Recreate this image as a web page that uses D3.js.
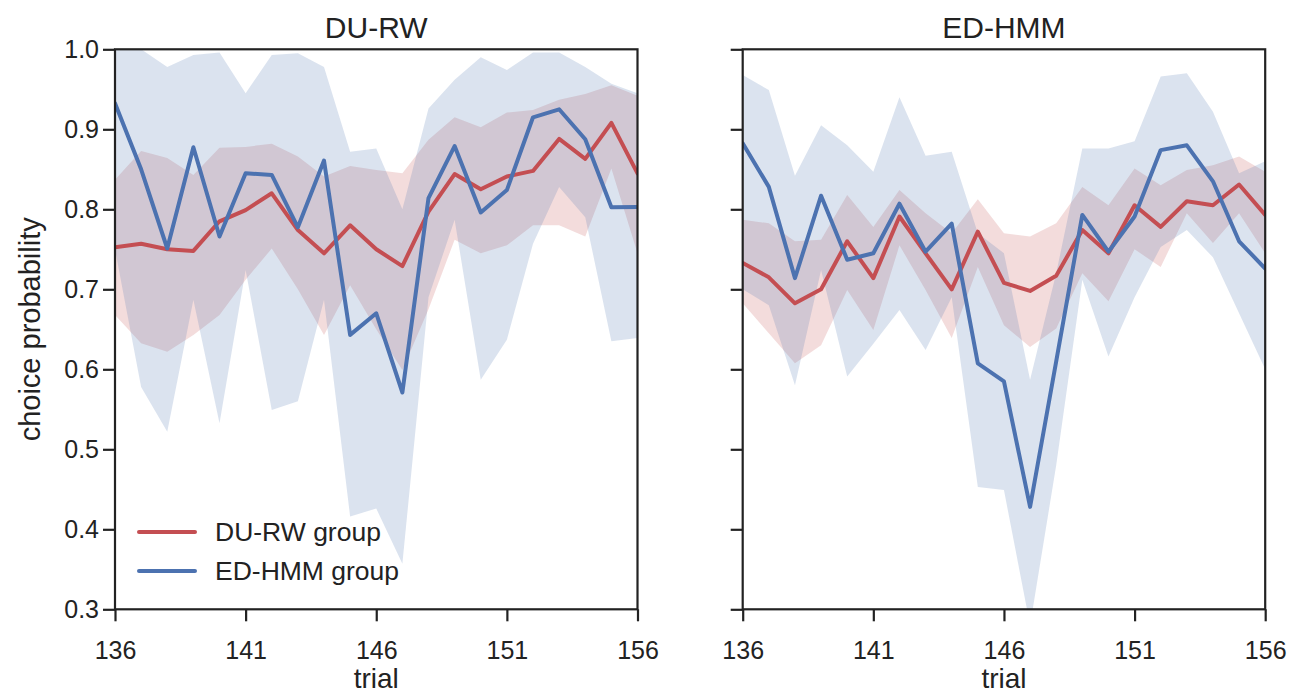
<!DOCTYPE html>
<html>
<head>
<meta charset="utf-8">
<script src="https://cdn.jsdelivr.net/npm/d3@7"></script>
<style>
  body { margin: 0; background: #fff; }
  svg { display: block; font-family: "Liberation Sans", Arial, sans-serif; }
</style>
</head>
<body>
<svg id="chart" width="1303" height="696"></svg>
<script>
const trials = d3.range(136, 157);
const xTickLabels = [136, 141, 146, 151, 156];
const yTickLabels = [0.3, 0.4, 0.5, 0.6, 0.7, 0.8, 0.9, 1.0];
const panelTitles = ["DU-RW", "ED-HMM"];
const seriesNames = ["DU-RW group", "ED-HMM group"];

// Left panel (DU-RW)
const duMeanL = [0.7525, 0.757, 0.75, 0.748, 0.785, 0.799, 0.82, 0.774, 0.745, 0.78, 0.75, 0.729, 0.797, 0.844, 0.825, 0.841, 0.848, 0.888, 0.863, 0.908, 0.845];
const duUpL   = [0.837, 0.873, 0.864, 0.843, 0.877, 0.878, 0.882, 0.866, 0.841, 0.854, 0.849, 0.845, 0.887, 0.915, 0.9025, 0.921, 0.924, 0.937, 0.944, 0.955, 0.942];
const duLoL   = [0.668, 0.6325, 0.622, 0.643, 0.668, 0.712, 0.751, 0.70, 0.643, 0.705, 0.65, 0.599, 0.675, 0.762, 0.745, 0.755, 0.78, 0.78, 0.766, 0.851, 0.745];
const edMeanL = [0.9325, 0.85, 0.751, 0.8775, 0.766, 0.845, 0.843, 0.7775, 0.861, 0.643, 0.67, 0.571, 0.814, 0.879, 0.796, 0.824, 0.915, 0.925, 0.8875, 0.8025, 0.803];
const edUpL   = [1.0, 1.0, 0.978, 0.993, 0.996, 0.945, 0.993, 0.995, 0.978, 0.872, 0.876, 0.80, 0.926, 0.962, 0.99, 0.974, 0.996, 0.996, 0.978, 0.957, 0.945];
const edLoL   = [0.75, 0.578, 0.522, 0.687, 0.5325, 0.724, 0.549, 0.56, 0.687, 0.416, 0.426, 0.357, 0.69, 0.787, 0.587, 0.637, 0.757, 0.828, 0.79, 0.635, 0.639];

// Right panel (ED-HMM)
const duMeanR = [0.733, 0.715, 0.6825, 0.70, 0.76, 0.714, 0.791, 0.745, 0.70, 0.772, 0.708, 0.698, 0.717, 0.774, 0.745, 0.805, 0.778, 0.81, 0.805, 0.831, 0.793];
const duUpR   = [0.787, 0.7825, 0.76, 0.762, 0.818, 0.778, 0.824, 0.795, 0.77, 0.8125, 0.77, 0.766, 0.7825, 0.828, 0.805, 0.851, 0.83, 0.849, 0.855, 0.866, 0.847];
const duLoR   = [0.6825, 0.645, 0.6075, 0.63, 0.699, 0.649, 0.755, 0.699, 0.639, 0.728, 0.655, 0.628, 0.651, 0.72, 0.685, 0.75, 0.728, 0.795, 0.758, 0.795, 0.745];
const edMeanR = [0.8825, 0.828, 0.714, 0.817, 0.737, 0.745, 0.807, 0.747, 0.782, 0.6075, 0.585, 0.428, 0.61, 0.793, 0.747, 0.791, 0.874, 0.88, 0.835, 0.76, 0.726];
const edUpR   = [0.968, 0.949, 0.842, 0.905, 0.88, 0.847, 0.94, 0.867, 0.872, 0.77, 0.745, 0.587, 0.72, 0.876, 0.876, 0.885, 0.966, 0.97, 0.922, 0.845, 0.86];
const edLoR   = [0.70, 0.68, 0.58, 0.724, 0.591, 0.632, 0.674, 0.624, 0.69, 0.453, 0.449, 0.28, 0.48, 0.712, 0.616, 0.69, 0.753, 0.774, 0.74, 0.67, 0.60];

const colors = ["#C44E52", "#4C72B0"];

const panels = [
  { title: panelTitles[0], left: 115, series: [
      { mean: duMeanL, up: duUpL, lo: duLoL },
      { mean: edMeanL, up: edUpL, lo: edLoL } ], showY: true, legend: true },
  { title: panelTitles[1], left: 742.7, series: [
      { mean: duMeanR, up: duUpR, lo: duLoR },
      { mean: edMeanR, up: edUpR, lo: edLoR } ], showY: false, legend: false }
];

const svg = d3.select("#chart");
const plotTop = 49.3, plotBottom = 609.3, pw = 522.5;
const y = d3.scaleLinear().domain([0.3, 1.0]).range([plotBottom, plotTop]);
const FONT = '"Liberation Sans", Arial, sans-serif';

panels.forEach((p, pi) => {
  const x = d3.scaleLinear().domain([136, 156]).range([p.left, p.left + pw]);
  const g = svg.append("g");
  const clipId = "clip" + pi;
  svg.append("clipPath").attr("id", clipId).append("rect")
    .attr("x", p.left).attr("y", plotTop).attr("width", pw).attr("height", plotBottom - plotTop);
  const plot = g.append("g").attr("clip-path", `url(#${clipId})`);

  p.series.forEach((s, si) => {
    const area = d3.area()
      .x((d, i) => x(trials[i]))
      .y0((d, i) => y(s.lo[i]))
      .y1((d, i) => y(s.up[i]));
    plot.append("path").datum(s.mean).attr("d", area)
      .attr("fill", colors[si]).attr("fill-opacity", 0.2).attr("stroke", "none");
  });
  p.series.forEach((s, si) => {
    const line = d3.line().x((d, i) => x(trials[i])).y(d => y(d));
    plot.append("path").datum(s.mean).attr("d", line)
      .attr("fill", "none").attr("stroke", colors[si]).attr("stroke-width", 4)
      .attr("stroke-linejoin", "round").attr("stroke-linecap", "round");
  });

  g.append("rect").attr("x", p.left).attr("y", plotTop).attr("width", pw).attr("height", plotBottom - plotTop)
    .attr("fill", "none").attr("stroke", "#222").attr("stroke-width", 2.2);

  const xAxis = d3.axisBottom(x).tickValues(xTickLabels).tickSize(12).tickPadding(20).tickFormat(d3.format("d"));
  const xg = g.append("g").attr("transform", `translate(0,${plotBottom})`).call(xAxis);
  xg.select(".domain").remove();
  xg.selectAll("line").attr("stroke", "#222").attr("stroke-width", 2.2);
  xg.selectAll("text").attr("font-size", 25).attr("fill", "#222").attr("font-family", FONT);

  const yAxis = d3.axisLeft(y).tickValues(yTickLabels).tickSize(12).tickPadding(4)
    .tickFormat(p.showY ? d3.format(".1f") : () => "");
  const yg = g.append("g").attr("transform", `translate(${p.left},0)`).call(yAxis);
  yg.select(".domain").remove();
  yg.selectAll("line").attr("stroke", "#222").attr("stroke-width", 2.2);
  yg.selectAll("text").attr("font-size", 25).attr("fill", "#222").attr("font-family", FONT);

  g.append("text").attr("x", p.left + pw / 2).attr("y", 38).attr("text-anchor", "middle")
    .attr("font-size", 30).attr("fill", "#222").text(p.title);
  g.append("text").attr("x", p.left + pw / 2).attr("y", 688).attr("text-anchor", "middle")
    .attr("font-size", 28).attr("fill", "#222").text("trial");

  if (p.showY) {
    g.append("text").attr("transform", `translate(40,${(plotTop + plotBottom) / 2}) rotate(-90)`)
      .attr("text-anchor", "middle").attr("font-size", 29).attr("fill", "#222").text("choice probability");
  }

  if (p.legend) {
    const lg = g.append("g");
    seriesNames.forEach((name, i) => {
      const ly = 532 + i * 39;
      lg.append("line").attr("x1", 139).attr("x2", 195).attr("y1", ly).attr("y2", ly)
        .attr("stroke", colors[i]).attr("stroke-width", 4).attr("stroke-linecap", "round");
      lg.append("text").attr("x", 215).attr("y", ly + 9).attr("font-size", 26.5).attr("fill", "#222").text(name);
    });
  }
});
</script>
</body>
</html>
